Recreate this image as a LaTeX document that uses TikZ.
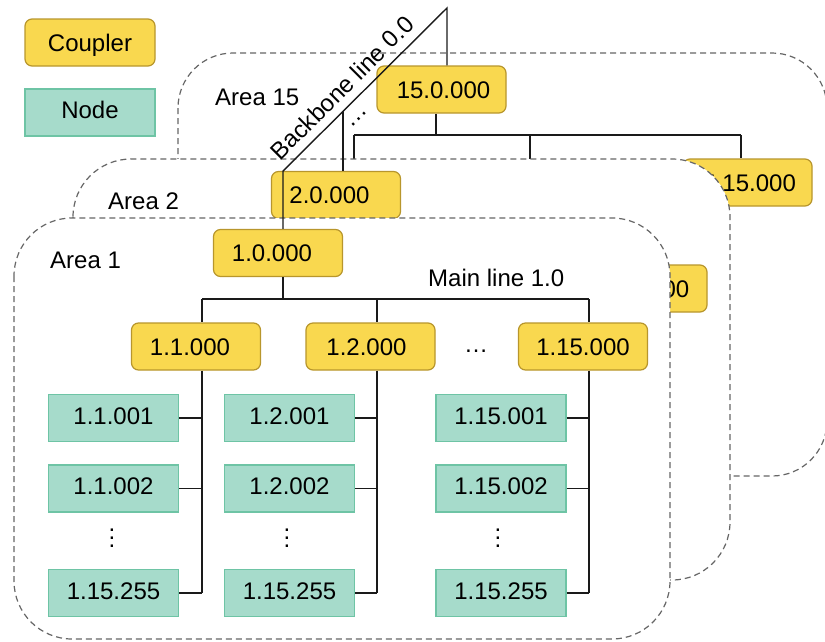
\documentclass[tikz,border=0pt]{standalone}
\usepackage{fontspec}
\setmainfont{Liberation Sans}
\usetikzlibrary{calc}

\definecolor{cplfill}{HTML}{F9D84F}
\definecolor{cpldraw}{HTML}{B8962C}
\definecolor{nodfill}{HTML}{A6DBCB}
\definecolor{noddraw}{HTML}{6EC4A5}
\definecolor{areadraw}{HTML}{666666}
\definecolor{wirecol}{HTML}{1A1A1A}

\tikzset{
  every node/.style={font=\fontsize{24}{28}\selectfont},
  coupler/.style={draw=cpldraw, fill=cplfill, line width=1.2pt, rounded corners=7pt,
    minimum width=129pt, minimum height=47pt, inner sep=0pt,
    text height=17pt, text depth=0pt},
  devnode/.style={draw=noddraw, fill=nodfill, line width=1.4pt,
    minimum width=130pt, minimum height=47pt, inner sep=0pt,
    text height=17pt, text depth=5pt},
  area/.style={draw=areadraw, fill=white, dash pattern=on 6pt off 4pt,
    line width=1.2pt, rounded corners=#1},
  area/.default=58pt,
  wire/.style={draw=wirecol, line width=1.4pt},
  lbl/.style={inner sep=0pt, anchor=west},
  vdotsnode/.style={align=center, inner sep=0pt, font=\fontsize{24}{8}\selectfont},
}

\begin{document}
\begin{tikzpicture}[x=1pt, y=-1pt]
\useasboundingbox (0,0) rectangle (825,641);

% ---------- Area 15 ----------
\draw[area=55pt] (178,53) rectangle (827,476);
\node[lbl] (a15) at (215,97) {Area 15};
\node[coupler] (c15) at (441.5,89.5) {\hspace*{4pt}15.0.000};
\node[coupler] (c1515) at (747.5,182.5) {\hspace*{-10pt}15.15.000};
\coordinate (j15) at (436,135);
\coordinate (b15l) at (354,135);
\coordinate (b15m) at (530,135);
\coordinate (b15r) at (741,135);
\draw[wire] (c15.south -| j15) -- (j15);
\draw[wire] (b15l) -- (b15r);
\draw[wire] (b15l) -- ++(0,24);
\draw[wire] (b15m) -- ++(0,24);
\draw[wire] (b15r) -- (c1515.north -| b15r);

% ---------- Area 2 ----------
\draw[area] (73,159) rectangle (730,580);
\node[lbl] (a2) at (108,201) {Area 2};
\node[coupler] (c2) at (336,195) {\hspace*{-13pt}2.0.000};
\node[coupler] (c215) at (642.5,288.5) {2.15.000};

% ---------- Area 1 ----------
\draw[area] (14,218) rectangle (670,639);
\node[lbl] (a1) at (50,260.5) {Area 1};
\node[lbl] (ml) at (428,277.5) {Main line 1.0};

\node[coupler] (c10)  at (278,253)   {\hspace*{-12pt}1.0.000};
\node[coupler] (c11)  at (196,346.5) {\hspace*{-12pt}1.1.000};
\node[coupler] (c12)  at (370.5,346.5) {\hspace*{-8pt}1.2.000};
\node[coupler] (c115) at (583,346.5) {1.15.000};
\node (hdots) at (476,351) {…};

\node[devnode] (n11a) at (113.5,418)   {1.1.001};
\node[devnode] (n11b) at (113.5,488.5) {1.1.002};
\node[devnode] (n11c) at (113.5,593)   {1.15.255};
\node[vdotsnode] (v11) at (112,538) {.\\.\\.};

\node[devnode] (n12a) at (289.5,418)   {1.2.001};
\node[devnode] (n12b) at (289.5,488.5) {1.2.002};
\node[devnode] (n12c) at (289.5,593)   {1.15.255};
\node[vdotsnode] (v12) at (287,538) {.\\.\\.};

\node[devnode] (n15a) at (501,418)   {1.15.001};
\node[devnode] (n15b) at (501,488.5) {1.15.002};
\node[devnode] (n15c) at (501,593)   {1.15.255};
\node[vdotsnode] (v15) at (498,538) {.\\.\\.};

% main line 1.0
\coordinate (j10)  at (283,299);
\coordinate (j11)  at (202,299);
\coordinate (j12)  at (377,299);
\coordinate (j115) at (589,299);
\draw[wire] (c10.south -| j10) -- (j10);
\draw[wire] (j11) -- (j115);
\foreach \j/\c in {j11/c11, j12/c12, j115/c115}
  \draw[wire] (\j) -- (\c.north -| \j);

% lines 1.1, 1.2, 1.15
\foreach \j/\c/\a/\b/\z in {j11/c11/n11a/n11b/n11c, j12/c12/n12a/n12b/n12c, j115/c115/n15a/n15b/n15c}{
  \draw[wire] (\c.south -| \j) -- (\z.east -| \j);
  \draw[wire] (\a.east) -- (\a.east -| \j);
  \draw[wire] (\b.east) -- (\b.east -| \j);
  \draw[wire] (\z.east) -- (\z.east -| \j);
}

% ---------- Backbone line 0.0 ----------
\coordinate (bbtop) at (447,8);
\coordinate (bbbot) at (283,171);
\coordinate (bb2) at ($(bbbot)!{60/164}!(bbtop)$);
\draw[wire] (c15.north -| bbtop) -- (bbtop) -- (bbbot) -- (c10.north -| bbbot);
\draw[wire] (bb2) -- (c2.north -| bb2);
\node[rotate=45, anchor=south, inner sep=0pt] (bbl)
  at ($(bbbot)!0.435!(bbtop)+(-6,-6)$) {Backbone line 0.0};
\node[rotate=45] (ddots) at (359.5,119) {…};

% ---------- Legend ----------
\node[coupler, minimum width=130pt] (lgc) at (90,42.5)  {Coupler};
\node[devnode] (lgn) at (90,112.5) {Node};
\end{tikzpicture}
\end{document}
